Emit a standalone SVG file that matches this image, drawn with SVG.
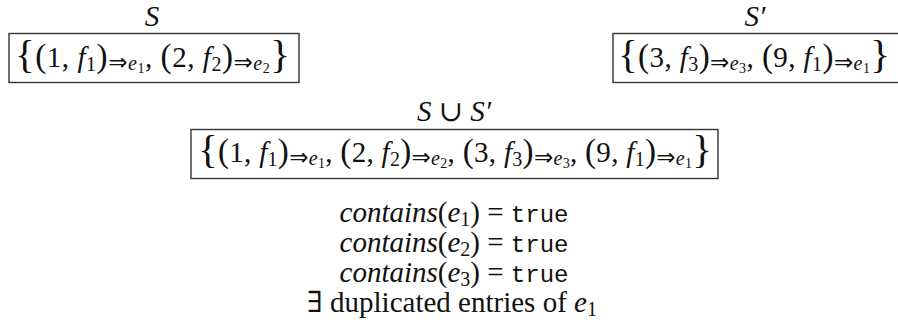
<svg xmlns="http://www.w3.org/2000/svg" width="898" height="334" viewBox="0 0 898 334">
<style>
.m{font-family:"Liberation Serif","DejaVu Serif",serif;font-size:29px;fill:#111}
.i{font-style:italic}
.s{font-size:20px}
.ss{font-size:14px}
.p{font-size:33px}
.b{font-size:41px}
.ar{font-family:"DejaVu Sans",sans-serif;font-size:23px}
.tt{font-family:"Liberation Mono","DejaVu Sans Mono",monospace;font-size:24px}
.box{fill:none;stroke:#333;stroke-width:1.4}
</style>
<g id="S">
<text class="m i" x="152" y="26" text-anchor="middle" font-size="30">S</text>
<rect class="box" x="9" y="33.5" width="290" height="49"/>
<text class="m" x="15" y="67" textLength="275" lengthAdjust="spacing"><tspan class="b" dy="1">{</tspan><tspan class="p" dy="-1">(</tspan>1, <tspan class="i">f</tspan><tspan class="s" dy="4">1</tspan><tspan class="p" dy="-4">)</tspan><tspan class="ar" dy="3">⇒</tspan><tspan class="s i">e</tspan><tspan class="ss" dy="3">1</tspan><tspan dy="-6">, </tspan><tspan class="p">(</tspan>2, <tspan class="i">f</tspan><tspan class="s" dy="4">2</tspan><tspan class="p" dy="-4">)</tspan><tspan class="ar" dy="3">⇒</tspan><tspan class="s i">e</tspan><tspan class="ss" dy="3">2</tspan><tspan class="b" dy="-5">}</tspan></text>
</g>
<g id="Sprime">
<text class="m i" x="755" y="26" text-anchor="middle" font-size="30">S′</text>
<rect class="box" x="613" y="33.5" width="290" height="49"/>
<text class="m" x="618" y="67" textLength="272" lengthAdjust="spacing"><tspan class="b" dy="1">{</tspan><tspan class="p" dy="-1">(</tspan>3, <tspan class="i">f</tspan><tspan class="s" dy="4">3</tspan><tspan class="p" dy="-4">)</tspan><tspan class="ar" dy="3">⇒</tspan><tspan class="s i">e</tspan><tspan class="ss" dy="3">3</tspan><tspan dy="-6">, </tspan><tspan class="p">(</tspan>9, <tspan class="i">f</tspan><tspan class="s" dy="4">1</tspan><tspan class="p" dy="-4">)</tspan><tspan class="ar" dy="3">⇒</tspan><tspan class="s i">e</tspan><tspan class="ss" dy="3">1</tspan><tspan class="b" dy="-5">}</tspan></text>
</g>
<g id="union">
<text class="m" x="454" y="121" text-anchor="middle" font-size="30"><tspan class="i">S</tspan> ∪ <tspan class="i">S′</tspan></text>
<rect class="box" x="191" y="129.5" width="527" height="49"/>
<text class="m" x="198" y="162" textLength="514" lengthAdjust="spacing"><tspan class="b" dy="1">{</tspan><tspan class="p" dy="-1">(</tspan>1, <tspan class="i">f</tspan><tspan class="s" dy="4">1</tspan><tspan class="p" dy="-4">)</tspan><tspan class="ar" dy="3">⇒</tspan><tspan class="s i">e</tspan><tspan class="ss" dy="3">1</tspan><tspan dy="-6">, </tspan><tspan class="p">(</tspan>2, <tspan class="i">f</tspan><tspan class="s" dy="4">2</tspan><tspan class="p" dy="-4">)</tspan><tspan class="ar" dy="3">⇒</tspan><tspan class="s i">e</tspan><tspan class="ss" dy="3">2</tspan><tspan dy="-6">, </tspan><tspan class="p">(</tspan>3, <tspan class="i">f</tspan><tspan class="s" dy="4">3</tspan><tspan class="p" dy="-4">)</tspan><tspan class="ar" dy="3">⇒</tspan><tspan class="s i">e</tspan><tspan class="ss" dy="3">3</tspan><tspan dy="-6">, </tspan><tspan class="p">(</tspan>9, <tspan class="i">f</tspan><tspan class="s" dy="4">1</tspan><tspan class="p" dy="-4">)</tspan><tspan class="ar" dy="3">⇒</tspan><tspan class="s i">e</tspan><tspan class="ss" dy="3">1</tspan><tspan class="b" dy="-5">}</tspan></text>
</g>
<g id="results">
<text class="m" x="454" y="222" text-anchor="middle"><tspan class="i">contains</tspan>(<tspan class="i">e</tspan><tspan class="s" dy="4">1</tspan><tspan dy="-4">) = </tspan><tspan class="tt">true</tspan></text>
<text class="m" x="454" y="252" text-anchor="middle"><tspan class="i">contains</tspan>(<tspan class="i">e</tspan><tspan class="s" dy="4">2</tspan><tspan dy="-4">) = </tspan><tspan class="tt">true</tspan></text>
<text class="m" x="454" y="282" text-anchor="middle"><tspan class="i">contains</tspan>(<tspan class="i">e</tspan><tspan class="s" dy="4">3</tspan><tspan dy="-4">) = </tspan><tspan class="tt">true</tspan></text>
<text class="m" x="452" y="312" text-anchor="middle">∃ duplicated entries of <tspan class="i">e</tspan><tspan class="s" dy="4">1</tspan></text>
</g>
</svg>
